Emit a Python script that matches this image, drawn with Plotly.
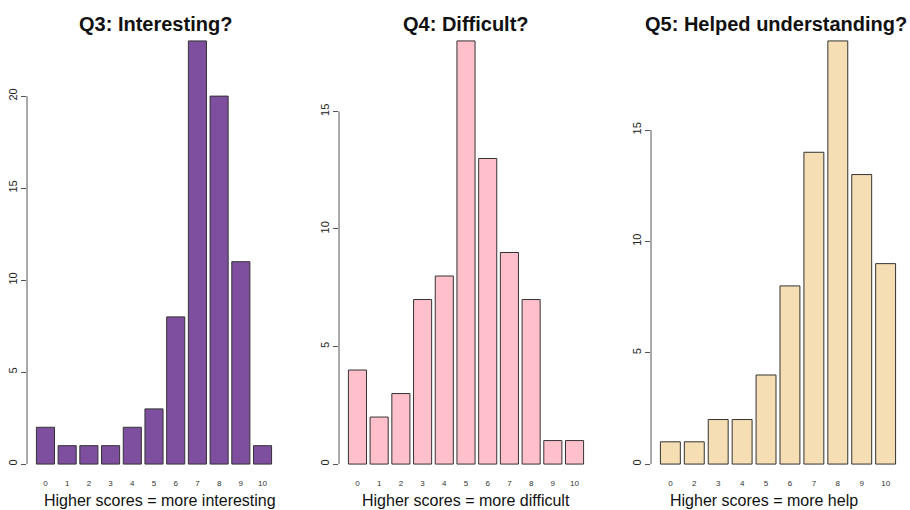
import plotly.graph_objects as go

# ---------------- data ----------------
q3_categories = ["0", "1", "2", "3", "4", "5", "6", "7", "8", "9", "10"]
q3_counts = [2, 1, 1, 1, 2, 3, 8, 23, 20, 11, 1]
q3_yticks = [0, 5, 10, 15, 20]

q4_categories = ["0", "1", "2", "3", "4", "5", "6", "7", "8", "9", "10"]
q4_counts = [4, 2, 3, 7, 8, 18, 13, 9, 7, 1, 1]
q4_yticks = [0, 5, 10, 15]

q5_categories = ["0", "2", "3", "4", "5", "6", "7", "8", "9", "10"]
q5_counts = [1, 1, 2, 2, 4, 8, 14, 19, 13, 9]
q5_yticks = [0, 5, 10, 15]

titles = ["Q3: Interesting?", "Q4: Difficult?", "Q5: Helped understanding?"]
xlabels = ["Higher scores = more interesting", "Higher scores = more difficult",
           "Higher scores = more help"]

# ---------------- style ----------------
colors = ["#7E4F9F", "#FFC0CB", "#F5DEB3"]
W, H = 910, 510
TOP, BOT = 24, 481
FONT = "Liberation Sans, Arial, Helvetica, sans-serif"
AXIS_COL = "#555555"

panels = [
    (q3_categories, q3_counts, q3_yticks, (27, 281), 155, 160),
    (q4_categories, q4_counts, q4_yticks, (339, 593), 466, 466),
    (q5_categories, q5_counts, q5_yticks, (651, 905), 776, 764),
]

fig = go.Figure()
annotations = []
shapes = []
layout = {}
for i, (cats, vals, yt, (xl, xr), tcx, lcx) in enumerate(panels):
    n = len(cats)
    idx = list(range(n))
    sfx = "" if i == 0 else str(i + 1)
    fig.add_trace(go.Bar(
        x=idx, y=vals, width=1 / 1.2,
        marker=dict(color=colors[i], line=dict(color="#333333", width=1)),
        xaxis="x" + sfx, yaxis="y" + sfx, showlegend=False, hoverinfo="x+y",
    ))
    span = n - 1 / 6
    ext = 0.04 * span
    vmax = max(vals)
    layout["xaxis" + sfx] = dict(
        domain=[xl / W, xr / W], anchor="y" + sfx,
        range=[-5 / 12 - ext, n - 1 + 5 / 12 + ext],
        tickmode="array", tickvals=idx, ticktext=cats,
        showgrid=False, zeroline=False, showline=False, ticks="",
        ticklabelstandoff=-4,
        tickfont=dict(family=FONT, size=8, color="#333333"),
        fixedrange=True,
    )
    layout["yaxis" + sfx] = dict(
        domain=[0, 1], anchor="x" + sfx,
        range=[-0.04 * vmax, 1.04 * vmax],
        tickmode="array", tickvals=yt, ticktext=[str(v) for v in yt],
        tickangle=-90, ticks="outside", ticklen=5, tickcolor=AXIS_COL, tickwidth=1,
        showgrid=False, zeroline=False, showline=False,
        tickfont=dict(family=FONT, size=11, color="#222222"),
        fixedrange=True,
    )
    shapes.append(dict(
        type="line", xref=("x" + sfx) + " domain", yref="y" + sfx,
        x0=0, x1=0, y0=yt[0], y1=yt[-1],
        line=dict(color=AXIS_COL, width=1),
    ))
    annotations.append(dict(
        text="<b>" + titles[i] + "</b>", xref="paper", yref="paper",
        x=tcx / W, y=(BOT - 24) / (BOT - TOP), xanchor="center", yanchor="middle",
        showarrow=False, font=dict(family=FONT, size=20, color="#111111"),
    ))
    annotations.append(dict(
        text=xlabels[i], xref="paper", yref="paper",
        x=lcx / W, y=(BOT - 500) / (BOT - TOP), xanchor="center", yanchor="middle",
        showarrow=False, font=dict(family=FONT, size=16, color="#111111"),
    ))

fig.update_layout(
    width=W, height=H,
    margin=dict(l=0, r=0, t=TOP, b=H - BOT),
    paper_bgcolor="white", plot_bgcolor="white",
    annotations=annotations, shapes=shapes,
    **layout,
)

fig.write_html(
    "out.html",
    config={"displayModeBar": False},
    post_script="document.body.style.margin='0';document.body.style.overflow='hidden';",
)
